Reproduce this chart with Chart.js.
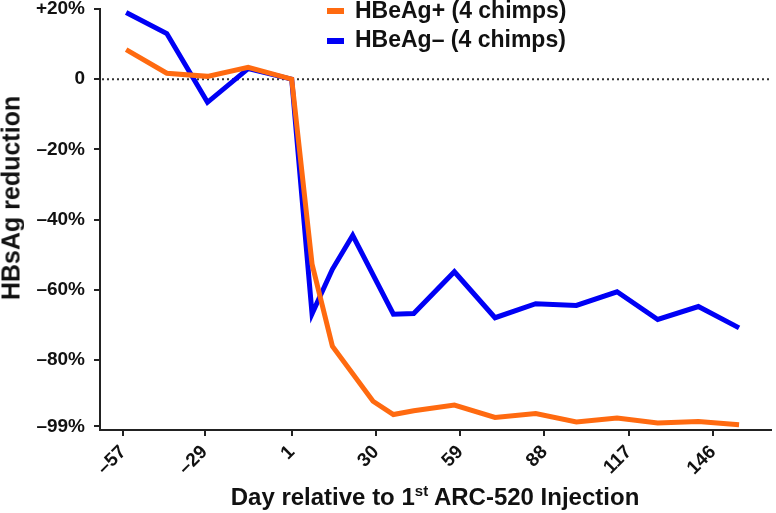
<!DOCTYPE html>
<html>
<head>
<meta charset="utf-8">
<script src="https://cdn.jsdelivr.net/npm/chart.js@4"></script>
<style>
  body { margin: 0; background: #fff; }
  #wrap { position: relative; width: 776px; height: 513px; font-family: 'Liberation Sans', Arial, sans-serif; font-weight: bold; color: #111; }
  .swatch { position: absolute; left: 327px; width: 17px; height: 6px; }
  .leg { position: absolute; left: 355px; font-size: 23px; line-height: 29px; white-space: nowrap; }
  #xtitle { position: absolute; top: 485px; left: 435px; transform: translateX(-50%); font-size: 24px; line-height: 24px; white-space: nowrap; }
  #xtitle sup { font-size: 15px; vertical-align: 9px; line-height: 0; }
  #ytitle { position: absolute; left: 11px; top: 198px; transform: translate(-50%, -50%) rotate(-90deg); font-size: 25px; line-height: 25px; white-space: nowrap; }
</style>
</head>
<body>
<div id="wrap">
  <canvas id="chart" width="776" height="513"></canvas>
  <div class="swatch" style="top:8px;background:#ff6a10"></div>
  <div class="leg" style="top:-4px">HBeAg+ (4 chimps)</div>
  <div class="swatch" style="top:38px;background:#0000f5"></div>
  <div class="leg" style="top:25px">HBeAg– (4 chimps)</div>
  <div id="xtitle">Day relative to 1<sup>st</sup> ARC-520 Injection</div>
  <div id="ytitle">HBsAg reduction</div>
</div>
<script>
const font_family = "'Liberation Sans', Arial, sans-serif"
const color_axis = '#222'

// days of each measurement
const days_pos = [-56, -42, -28, -14, 1, 8, 15, 29, 36, 43, 57, 71, 85, 99, 113, 127, 141, 155]
const days_neg = [-56, -42, -28, -14, 1, 8, 15, 22, 36, 43, 57, 71, 85, 99, 113, 127, 141, 155]

// % change of HBsAg from baseline
const hbeag_pos = [8.4, 1.7, 0.8, 3.4, 0, -52.7, -76.1, -91.8, -95.6, -94.5, -92.9, -96.4, -95.3, -97.7, -96.6, -98.0, -97.6, -98.5]
const hbeag_neg = [19.0, 13.0, -6.6, 3.0, 0, -66.9, -54.2, -44.5, -67.0, -66.8, -54.9, -68.0, -64.0, -64.5, -60.6, -68.5, -64.8, -70.9]

const series_names = ['HBeAg+ (4 chimps)', 'HBeAg– (4 chimps)']

// tick labels
const x_ticks = [-57, -29, 1, 30, 59, 88, 117, 146]
const y_ticks = [20, 0, -20, -40, -60, -80, -99]
const y_tick_labels = ['+20%', '0', '–20%', '–40%', '–60%', '–80%', '–99%']

function points(xs, ys) {
    return xs.map((x, i) => ({ x: x, y: ys[i] }))
}

// dotted line at 0
const zero_line = {
    id: 'zero_line',
    beforeDatasetsDraw(chart) {
        const ctx = chart.ctx
        const area = chart.chartArea
        const y = chart.scales.y.getPixelForValue(0)
        ctx.save()
        ctx.strokeStyle = '#333'
        ctx.lineWidth = 2
        ctx.setLineDash([2, 3])
        ctx.beginPath()
        ctx.moveTo(area.left + 2, y)
        ctx.lineTo(area.right, y)
        ctx.stroke()
        ctx.restore()
    }
}

const tick_font = { family: font_family, size: 19, weight: 'bold' }

new Chart('chart', {
    type: 'line',
    data: {
        datasets: [{
            label: series_names[0],
            data: points(days_pos, hbeag_pos),
            borderColor: '#ff6a10',
            backgroundColor: '#ff6a10',
            borderWidth: 5,
            pointRadius: 0,
            tension: 0
        }, {
            label: series_names[1],
            data: points(days_neg, hbeag_neg),
            borderColor: '#0000f5',
            backgroundColor: '#0000f5',
            borderWidth: 5,
            pointRadius: 0,
            tension: 0
        }]
    },
    options: {
        responsive: false,
        animation: false,
        devicePixelRatio: 1,
        layout: { autoPadding: false, padding: { top: 9, right: 5, left: 0, bottom: 0 } },
        plugins: {
            legend: { display: false },
            tooltip: { enabled: false }
        },
        scales: {
            x: {
                type: 'linear',
                min: -65,
                max: 166,
                afterBuildTicks: scale => { scale.ticks = x_ticks.map(v => ({ value: v })) },
                afterFit: scale => {
                    scale.height = 83
                    scale.paddingLeft = 0
                    scale.paddingRight = 0
                },
                ticks: {
                    minRotation: 45,
                    maxRotation: 45,
                    padding: 5,
                    color: '#111',
                    font: tick_font,
                    callback: v => String(v).replace('-', '–')
                },
                grid: { drawOnChartArea: false, color: color_axis, lineWidth: 2, tickLength: 6 },
                border: { color: color_axis, width: 2 }
            },
            y: {
                min: -100,
                max: 20,
                afterBuildTicks: scale => { scale.ticks = y_ticks.map(v => ({ value: v })) },
                afterFit: scale => {
                    scale.width = 100
                    scale.paddingTop = 0
                    scale.paddingBottom = 0
                },
                ticks: {
                    padding: 9,
                    color: '#111',
                    font: tick_font,
                    callback: v => y_tick_labels[y_ticks.indexOf(v)]
                },
                grid: { drawOnChartArea: false, color: color_axis, lineWidth: 2, tickLength: 6 },
                border: { color: color_axis, width: 2 }
            }
        }
    },
    plugins: [zero_line]
})
</script>
</body>
</html>
